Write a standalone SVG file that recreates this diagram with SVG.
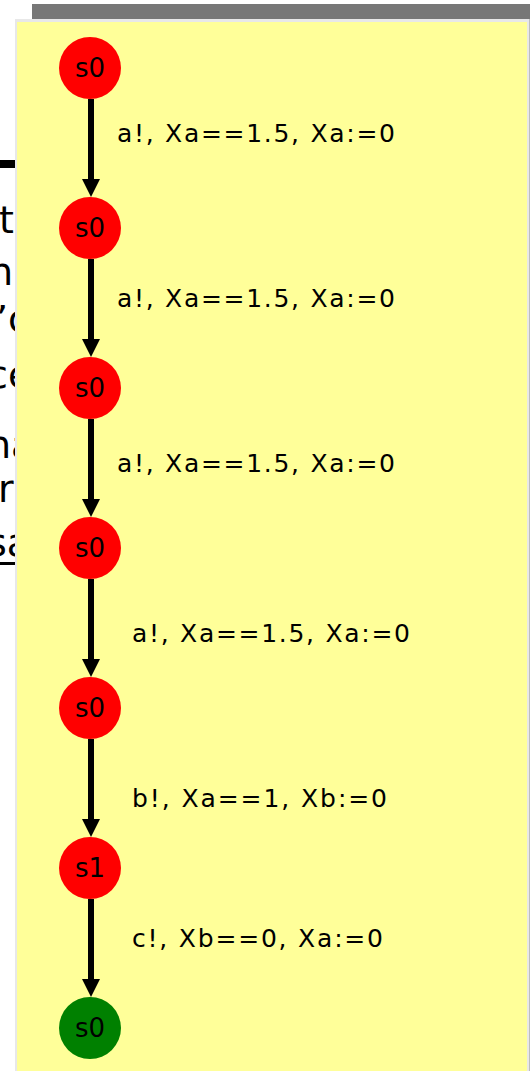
<svg xmlns="http://www.w3.org/2000/svg" width="530" height="1071" viewBox="0 0 530 1071">
<style>
.bg{font-family:"DejaVu Sans",Verdana,sans-serif;font-size:38px;fill:#000}
.nd{font-family:"DejaVu Sans",Verdana,sans-serif;font-size:26px;fill:#000;text-anchor:middle}
.lb{font-family:"DejaVu Sans",Verdana,sans-serif;font-size:25px;fill:#000}
.edge{stroke:#000;stroke-width:6;fill:none;marker-end:url(#ah)}
.red{fill:#FF0000}
.grn{fill:#008000}
</style>
<defs>
<marker id="ah" markerUnits="userSpaceOnUse" markerWidth="18" markerHeight="18" refX="6" refY="9" orient="auto" viewBox="0 0 18 18">
<path d="M0,0 L18,9 L0,18 z" fill="#000"/>
</marker>
</defs>
<rect width="530" height="1071" fill="#fff"/>
<g id="background-slide">
<rect x="0" y="160" width="16" height="8" fill="#000"/>
<text class="bg" x="-1" y="233">te</text>
<text class="bg" x="-11" y="285">n</text>
<text class="bg" x="-4" y="332">’c</text>
<text class="bg" x="-13" y="388">ce</text>
<text class="bg" x="-13" y="458">na</text>
<text class="bg" x="-2" y="502">r</text>
<text class="bg" x="-13" y="556">sa</text>
<rect x="0" y="562" width="16" height="3" fill="#000"/>
</g>
<g id="panel">
<rect x="32" y="4" width="498" height="15" fill="#777777"/>
<rect x="15" y="19" width="515" height="1052" fill="#e8e8e8"/>
<rect x="529" y="19" width="1" height="1052" fill="#bdbdbd"/>
<rect x="17" y="22" width="510" height="1049" fill="#FFFF99"/>
</g>
<g id="connectors">
<line class="edge" x1="91" y1="99" x2="91" y2="185"/>
<line class="edge" x1="91" y1="259" x2="91" y2="345"/>
<line class="edge" x1="91" y1="419" x2="91" y2="505"/>
<line class="edge" x1="91" y1="579" x2="91" y2="665"/>
<line class="edge" x1="91" y1="739" x2="91" y2="825"/>
<line class="edge" x1="91" y1="899" x2="91" y2="985"/>
<text class="lb" x="117" y="142" textLength="278" lengthAdjust="spacing">a!, Xa==1.5, Xa:=0</text>
<text class="lb" x="117" y="307" textLength="278" lengthAdjust="spacing">a!, Xa==1.5, Xa:=0</text>
<text class="lb" x="117" y="472" textLength="278" lengthAdjust="spacing">a!, Xa==1.5, Xa:=0</text>
<text class="lb" x="132" y="642" textLength="278" lengthAdjust="spacing">a!, Xa==1.5, Xa:=0</text>
<text class="lb" x="132" y="807" textLength="255" lengthAdjust="spacing">b!, Xa==1, Xb:=0</text>
<text class="lb" x="132" y="947" textLength="251" lengthAdjust="spacing">c!, Xb==0, Xa:=0</text>
</g>
<g id="n1"><circle class="red" cx="90" cy="68" r="31"/><text class="nd" x="90" y="77">s0</text></g>
<g id="n2"><circle class="red" cx="90" cy="228" r="31"/><text class="nd" x="90" y="237">s0</text></g>
<g id="n3"><circle class="red" cx="90" cy="388" r="31"/><text class="nd" x="90" y="397">s0</text></g>
<g id="n4"><circle class="red" cx="90" cy="548" r="31"/><text class="nd" x="90" y="557">s0</text></g>
<g id="n5"><circle class="red" cx="90" cy="708" r="31"/><text class="nd" x="90" y="717">s0</text></g>
<g id="n6"><circle class="red" cx="90" cy="868" r="31"/><text class="nd" x="90" y="877">s1</text></g>
<g id="n7"><circle class="grn" cx="90" cy="1028" r="31"/><text class="nd" x="90" y="1037">s0</text></g>
</svg>
